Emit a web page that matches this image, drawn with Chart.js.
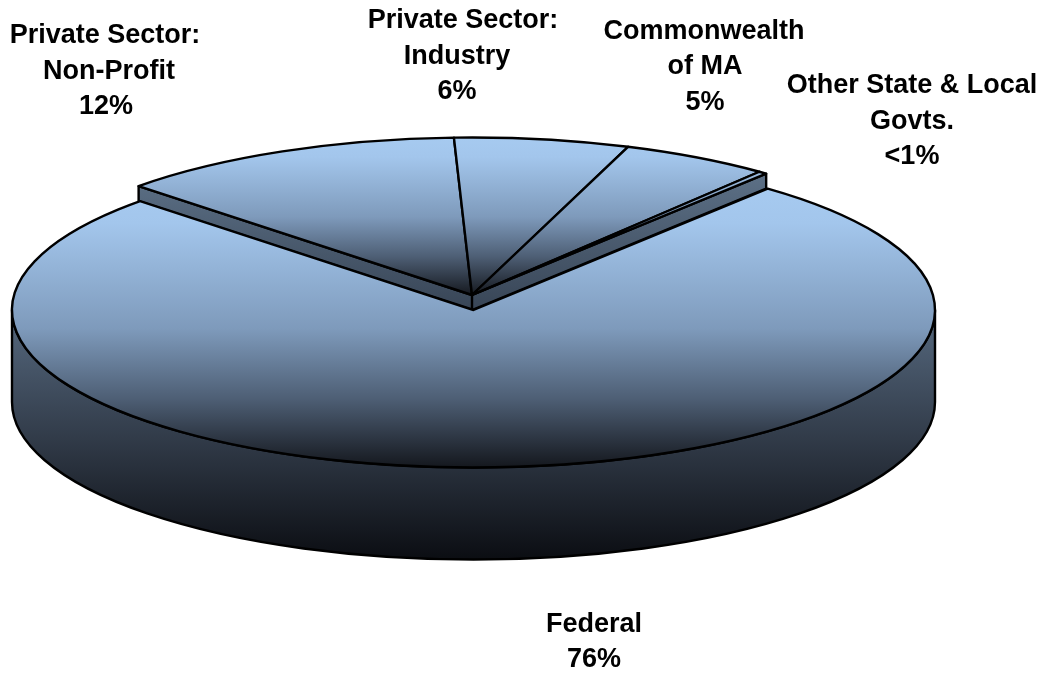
<!DOCTYPE html>
<html>
<head>
<meta charset="utf-8">
<title>Funding by source</title>
<script src="https://cdn.jsdelivr.net/npm/chart.js@4"></script>
<style>
    body { margin: 0; background: #fff; }
    canvas { display: block; }
</style>
</head>
<body>
<canvas id="pieChart" width="1049" height="675"></canvas>
<script>
// slices, clockwise from the front one. "<1%" is drawn as a thin sliver
var categories = ['Federal', 'Private Sector: Non-Profit', 'Private Sector: Industry', 'Commonwealth of MA', 'Other State & Local Govts.'];
var shares = [76, 12.2, 6.1, 5.2, 0.3];

var labelLines = [
    ['Federal', '76%'],
    ['Private Sector:', 'Non-Profit', '12%'],
    ['Private Sector:', 'Industry', '6%'],
    ['Commonwealth', 'of MA', '5%'],
    ['Other State & Local', 'Govts.', '<1%']
];
var labelX = [
    [594, 594],
    [105, 109, 106],
    [463, 457, 457],
    [704, 705, 705],
    [912, 912, 912]
];
var labelY = [624.5, 36, 21, 31.5, 86];
var labelStep = 35.3;

// the flat chart.js pie gets squashed onto this ellipse
var pieRadius = 300;
var rx = 461.5;
var ry = 157.5;
var frontCenter = { x: 473.5, y: 310 };
var backCenter = { x: 472, y: 295 };
var wallDepth = 92;
var backWallDepth = 15;

var ctx = document.getElementById('pieChart').getContext('2d');
var canvasCy = 337.5;

function topGradient(top, bottom, center) {
    // gradient is filled inside the squashed transform, so convert y first
    var toPie = function(y) { return canvasCy + (y - center) * pieRadius / ry; };
    var g = ctx.createLinearGradient(0, toPie(top), 0, toPie(bottom));
    g.addColorStop(0, '#a6caf0');
    g.addColorStop(0.12, '#a3c6ec');
    g.addColorStop(0.5, '#7e9abb');
    g.addColorStop(0.75, '#4e5f75');
    g.addColorStop(1, '#14171d');
    return g;
}

function drawWalls(c, arcs) {
    var g = c.createLinearGradient(0, 312, 0, 560);
    g.addColorStop(0, '#56697f');
    g.addColorStop(0.5, '#323c4a');
    g.addColorStop(1, '#0b0d12');
    c.beginPath();
    c.ellipse(frontCenter.x, frontCenter.y, rx, ry, 0, 0, Math.PI);
    c.lineTo(frontCenter.x - rx, frontCenter.y + wallDepth);
    c.ellipse(frontCenter.x, frontCenter.y + wallDepth, rx, ry, 0, Math.PI, 0, true);
    c.closePath();
    c.fillStyle = g;
    c.fill();
    c.stroke();
}

function drawBackWall(c, arcs) {
    var a0 = arcs[1].startAngle;
    var a1 = arcs[arcs.length - 1].endAngle;
    var x0 = backCenter.x + rx * Math.cos(a0), y0 = backCenter.y + ry * Math.sin(a0);
    var x1 = backCenter.x + rx * Math.cos(a1), y1 = backCenter.y + ry * Math.sin(a1);
    var g = c.createLinearGradient(0, 175, 0, 310);
    g.addColorStop(0, '#5c7086');
    g.addColorStop(1, '#384556');
    c.beginPath();
    c.moveTo(x0, y0);
    c.lineTo(backCenter.x, backCenter.y);
    c.lineTo(x1, y1);
    c.lineTo(x1, y1 + backWallDepth);
    c.lineTo(backCenter.x, backCenter.y + backWallDepth);
    c.lineTo(x0, y0 + backWallDepth);
    c.closePath();
    c.fillStyle = g;
    c.fill();
    c.stroke();
    c.beginPath();
    c.moveTo(backCenter.x, backCenter.y);
    c.lineTo(backCenter.x, backCenter.y + backWallDepth);
    c.stroke();
}

function drawSlice(c, arc, center) {
    c.save();
    c.translate(center.x, center.y);
    c.scale(rx / pieRadius, ry / pieRadius);
    c.translate(-arc.x, -arc.y);
    arc.draw(c);
    c.restore();
    c.beginPath();
    c.moveTo(center.x, center.y);
    c.ellipse(center.x, center.y, rx, ry, 0, arc.startAngle, arc.endAngle);
    c.closePath();
    c.stroke();
}

var pie3d = {
    id: 'pie3d',
    beforeDatasetsDraw: function(chart) {
        var c = chart.ctx;
        var arcs = chart.getDatasetMeta(0).data;
        c.save();
        c.strokeStyle = '#000';
        c.lineWidth = 2.4;
        c.lineJoin = 'round';
        drawBackWall(c, arcs);
        for (var i = 1; i < arcs.length; i++) {
            drawSlice(c, arcs[i], backCenter);
        }
        drawWalls(c, arcs);
        drawSlice(c, arcs[0], frontCenter);
        c.restore();
        return false;
    },
    afterDraw: function(chart) {
        var c = chart.ctx;
        c.save();
        c.fillStyle = '#000';
        c.font = 'bold 27px "Liberation Sans", Arial, sans-serif';
        c.textAlign = 'center';
        c.textBaseline = 'middle';
        labelLines.forEach(function(lines, i) {
            lines.forEach(function(line, j) {
                c.fillText(line, labelX[i][j], labelY[i] + j * labelStep);
            });
        });
        c.restore();
    }
};

var frontFill = topGradient(190, 468, frontCenter.y);
var backFill = topGradient(138, 296, backCenter.y);

new Chart(ctx, {
    type: 'pie',
    data: {
        labels: categories,
        datasets: [{
            data: shares,
            backgroundColor: function(context) {
                return context.dataIndex === 0 ? frontFill : backFill;
            },
            borderWidth: 0
        }]
    },
    options: {
        responsive: false,
        animation: false,
        radius: pieRadius,
        rotation: 39.6,
        plugins: {
            legend: { display: false },
            tooltip: { enabled: false }
        }
    },
    plugins: [pie3d]
});
</script>
</body>
</html>
